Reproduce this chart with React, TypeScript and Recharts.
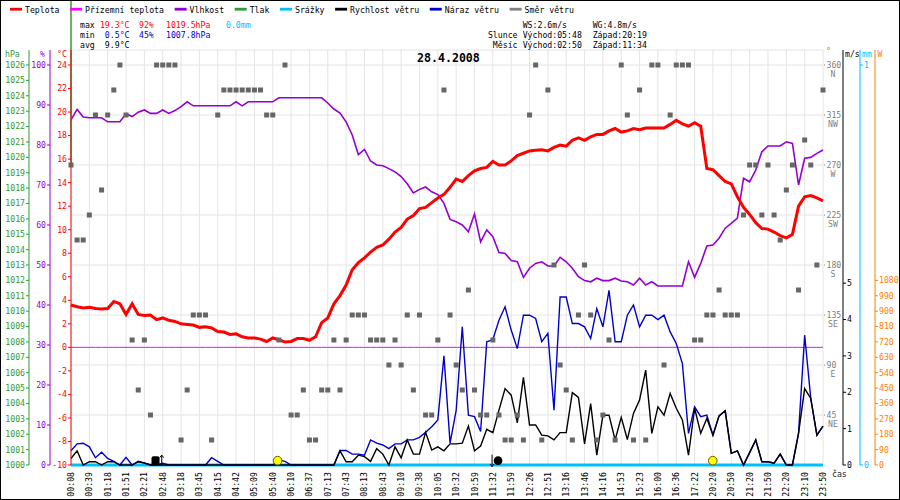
import React from 'react';
import {
  ComposedChart, Line, Scatter, XAxis, YAxis, CartesianGrid, ReferenceLine, ReferenceDot,
} from 'recharts';

// ---------- DATA ----------
const timeLabels = [
  '00:08', '00:39', '01:18', '01:51', '02:21', '02:48', '03:18', '03:45', '04:15', '04:42',
  '05:09', '05:40', '06:10', '06:37', '07:13', '07:43', '08:13', '08:43', '09:10', '09:38',
  '10:05', '10:32', '10:59', '11:32', '11:59', '12:26', '12:51', '13:16', '13:46', '14:16',
  '14:53', '15:23', '16:00', '16:36', '17:22', '20:20', '20:50', '21:20', '21:50', '22:20',
  '23:10', '23:50',
];
const SAMPLES_PER_LABEL = 3;

const temperature = [
  3.6, 3.45, 3.35, 3.4, 3.3, 3.25, 3.3, 3.9, 3.7, 2.8, 3.7, 2.8,
  2.7, 2.75, 2.35, 2.5, 2.3, 2.2, 2.0, 1.95, 1.9, 1.7, 1.75, 1.65,
  1.35, 1.3, 1.1, 1.15, 0.9, 0.8, 0.8, 0.7, 0.5, 0.8, 0.65, 0.45,
  0.5, 0.75, 0.75, 0.6, 0.9, 2.1, 2.5, 3.7, 4.4, 5.3, 6.6, 7.2,
  7.6, 8.1, 8.5, 8.7, 9.2, 9.8, 10.2, 10.9, 11.2, 11.8, 11.9, 12.3,
  12.7, 13.0, 13.6, 14.3, 14.1, 14.6, 15.0, 15.2, 15.3, 15.8, 15.5, 15.5,
  15.85, 16.3, 16.5, 16.7, 16.75, 16.8, 16.7, 17.0, 17.2, 17.1, 17.6, 17.8,
  17.6, 17.9, 18.1, 18.1, 18.4, 18.6, 18.3, 18.4, 18.6, 18.5, 18.65, 18.65,
  18.65, 18.65, 18.95, 19.3, 19.0, 18.8, 19.1, 18.8, 15.2, 15.1, 14.6, 14.1,
  13.9, 12.8, 11.9, 11.3, 10.6, 10.1, 10.05, 9.8, 9.5, 9.3, 9.6, 12.0,
  12.8, 12.9, 12.7, 12.45,
];

const groundTemp = [
  0, 0, 0, 0, 0, 0, 0, 0, 0, 0, 0, 0,
  0, 0, 0, 0, 0, 0, 0, 0, 0, 0, 0, 0,
  0, 0, 0, 0, 0, 0, 0, 0, 0, 0, 0, 0,
  0, 0, 0, 0, 0, 0, 0, 0, 0, 0, 0, 0,
  0, 0, 0, 0, 0, 0, 0, 0, 0, 0, 0, 0,
  0, 0, 0, 0, 0, 0, 0, 0, 0, 0, 0, 0,
  0, 0, 0, 0, 0, 0, 0, 0, 0, 0, 0, 0,
  0, 0, 0, 0, 0, 0, 0, 0, 0, 0, 0, 0,
  0, 0, 0, 0, 0, 0, 0, 0, 0, 0, 0, 0,
  0, 0, 0, 0, 0, 0, 0, 0, 0, 0, 0, 0,
  0, 0, 0, 0,
];

const humidity = [
  86.3, 88.9, 87.0, 86.8, 86.8, 86.8, 85.8, 85.8, 85.8, 87.8, 87.1, 88.2,
  88.75, 87.9, 87.9, 88.75, 87.9, 88.6, 89.6, 90.8, 89.8, 89.8, 89.8, 89.8,
  89.8, 89.8, 89.8, 90.8, 89.8, 90.8, 90.8, 90.8, 90.8, 90.8, 91.8, 91.8,
  91.8, 91.8, 91.8, 91.8, 91.8, 91.8, 90.5, 89.0, 88.0, 85.8, 82.5, 77.6,
  78.9, 76.0, 75.0, 74.8, 74.1, 73.3, 72.1, 70.3, 68.0, 68.9, 69.5, 68.3,
  67.6, 65.4, 61.4, 60.8, 60.0, 58.3, 62.75, 55.8, 58.75, 57.1, 53.1, 52.9,
  51.1, 50.8, 46.9, 49.2, 50.4, 50.8, 49.75, 49.75, 51.9, 50.8, 49.2, 47.1,
  46.1, 45.8, 46.7, 46.1, 46.1, 46.7, 46.0, 45.8, 45.0, 46.7, 45.0, 45.8,
  44.75, 44.75, 44.75, 44.75, 44.75, 50.8, 46.9, 50.4, 54.75, 55.0, 56.7, 59.2,
  60.4, 61.7, 71.7, 70.8, 73.75, 78.3, 79.75, 79.75, 79.75, 80.8, 80.4, 70.0,
  76.7, 76.9, 77.9, 78.75,
];

const precipitation = [
  0, 0, 0, 0, 0, 0, 0, 0, 0, 0, 0, 0,
  0, 0, 0, 0, 0, 0, 0, 0, 0, 0, 0, 0,
  0, 0, 0, 0, 0, 0, 0, 0, 0, 0, 0, 0,
  0, 0, 0, 0, 0, 0, 0, 0, 0, 0, 0, 0,
  0, 0, 0, 0, 0, 0, 0, 0, 0, 0, 0, 0,
  0, 0, 0, 0, 0, 0, 0, 0, 0, 0, 0, 0,
  0, 0, 0, 0, 0, 0, 0, 0, 0, 0, 0, 0,
  0, 0, 0, 0, 0, 0, 0, 0, 0, 0, 0, 0,
  0, 0, 0, 0, 0, 0, 0, 0, 0, 0, 0, 0,
  0, 0, 0, 0, 0, 0, 0, 0, 0, 0, 0, 0,
  0, 0, 0, 0,
];

const windSpeed = [
  0.18, 0.39, 0, 0.09, 0.09, 0, 0.09, 0.09, 0, 0, 0, 0.09,
  0.05, 0, 0, 0, 0, 0, 0, 0, 0, 0, 0, 0,
  0, 0, 0, 0, 0, 0, 0, 0, 0, 0, 0, 0,
  0, 0, 0, 0, 0, 0, 0, 0, 0.39, 0.09, 0.09, 0.27,
  0.23, 0.1, 0.45, 0.3, 0, 0.5, 0.2, 0.69, 0.3, 0.3, 0.9, 0.41,
  0.5, 0.39, 0.58, 0.58, 0.6, 1.07, 0.39, 0.52, 0.98, 0.89, 1.51, 2.1,
  1.92, 1.16, 2.41, 1.1, 1.1, 0.82, 0.8, 0.69, 0.89, 0.89, 1.99, 1.86,
  0.58, 1.69, 0.27, 1.37, 1.37, 0.69, 1.31, 0.7, 1.42, 1.79, 2.61, 0.87,
  1.6, 1.37, 1.97, 1.56, 1.24, 0.27, 1.56, 0.87, 1.28, 0.82, 1.35, 1.49,
  0.32, 0.39, 0, 0.34, 0.69, 0.09, 0.09, 0.05, 0.3, 0, 0, 0.87,
  2.1, 1.83, 0.82, 1.07,
];

const windGust = [
  0.39, 0.58, 0.6, 0.5, 0.2, 0.35, 0.18, 0.1, 0, 0.21, 0, 0.1,
  0.06, 0, 0, 0.05, 0, 0, 0, 0, 0, 0, 0, 0.2,
  0.1, 0, 0, 0, 0, 0, 0, 0, 0, 0, 0.14, 0.1,
  0, 0, 0, 0, 0, 0, 0, 0, 0.4, 0.4, 0.3, 0.3,
  0.27, 0.69, 0.6, 0.55, 0.45, 0.58, 0.58, 0.69, 0.69, 0.76, 0.9, 1.05,
  1.24, 3.0, 0.6, 1.5, 3.8, 1.37, 1.33, 0.92, 3.39, 3.45, 3.98, 4.35,
  3.71, 3.2, 4.12, 4.12, 4.03, 3.39, 3.62, 1.51, 4.62, 4.62, 3.89, 3.89,
  3.8, 3.48, 4.3, 3.8, 4.8, 3.39, 3.39, 4.12, 4.4, 3.8, 4.12, 4.12,
  4.0, 4.12, 3.66, 3.34, 2.79, 0.87, 1.6, 1.33, 1.37, 0.82, 1.35, 1.49,
  0.32, 0.39, 0, 0.34, 0.69, 0.09, 0.09, 0.05, 0.3, 0, 0, 0.87,
  3.57, 1.83, 0.82, 1.07,
];

const windDir = [
  270, 202.5, 202.5, 225, 315, 247.5, 315, 337.5, 360, 315, 112.5, 67.5,
  112.5, 45, 360, 360, 360, 360, 22.5, 67.5, 135, 135, 135, 22.5,
  315, 337.5, 337.5, 337.5, 337.5, 337.5, 337.5, 337.5, 315, 315, 112.5, 360,
  45, 45, 67.5, 22.5, 22.5, 67.5, 67.5, 112.5, 67.5, 112.5, 135, 135,
  135, 112.5, 112.5, 112.5, 90, 112.5, 90, 135, 67.5, 135, 45, 45,
  112.5, 337.5, 135, 90, 67.5, 157.5, 67.5, 45, 45, 112.5, 45, 22.5,
  22.5, 45, 22.5, 315, 360, 22.5, 337.5, 180, 90, 67.5, 22.5, 135,
  180, 135, 22.5, 45, 112.5, 22.5, 360, 315, 22.5, 337.5, 22.5, 360,
  360, 90, 315, 360, 360, 360, 112.5, 112.5, 135, 135, 157.5, 135,
  135, 135, 225, 270, 270, 225, 270, 225, 202.5, 247.5, 270, 157.5,
  292.5, 270, 180, 337.5,
];

const pressureMax = 1019.5;
const pressureOffScale = 1031;

// sun / moon events (position in sample index)
const skyEvents = [
  { k: 15.2, kind: 'moonrise', time: '02:50' },
  { k: 33.8, kind: 'sunrise', time: '05:48' },
  { k: 69.2, kind: 'moonset', time: '11:34' },
  { k: 104.97, kind: 'sunset', time: '20:19' },
];

const tempTicks = [-10, -8, -6, -4, -2, 0, 2, 4, 6, 8, 10, 12, 14, 16, 18, 20, 22, 24];
const humTicks = [0, 10, 20, 30, 40, 50, 60, 70, 80, 90, 100];
const presTicks = [1000, 1001, 1002, 1003, 1004, 1005, 1006, 1007, 1008, 1009, 1010, 1011, 1012, 1013,
  1014, 1015, 1016, 1017, 1018, 1019, 1020, 1021, 1022, 1023, 1024, 1025, 1026];
const dirTicks = [45, 90, 135, 180, 225, 270, 315, 360];
const compass: Record<number, string> = { 360: 'N', 315: 'NW', 270: 'W', 225: 'SW', 180: 'S', 135: 'SE', 90: 'E', 45: 'NE' };
const wsTicks = [0, 1, 2, 3, 4, 5];
const mmTicks = [0, 1];
const wTicks = [0, 90, 180, 270, 360, 450, 540, 630, 720, 810, 900, 990, 1080];

const legendItems = [
  { name: 'Teplota', color: '#ff0000' },
  { name: 'Přízemní teplota', color: '#ff00ff' },
  { name: 'Vlhkost', color: '#9400d3' },
  { name: 'Tlak', color: '#339933' },
  { name: 'Srážky', color: '#00bfff' },
  { name: 'Rychlost větru', color: '#000000' },
  { name: 'Náraz větru', color: '#0000cc' },
  { name: 'Směr větru', color: '#808080' },
];

const rows = temperature.map((t, k) => ({
  k,
  temp: t,
  ground: groundTemp[k],
  hum: humidity[k],
  precip: precipitation[k],
  ws: windSpeed[k],
  wg: windGust[k],
  dir: windDir[k],
}));
const xTicks = timeLabels.map((_, i) => i * SAMPLES_PER_LABEL);

// ---------- STYLE ----------
const FONT = '"DejaVu Sans Mono", "Liberation Mono", monospace';
const FS = 8.2;
const CW = 4.94; // char advance
const RED = '#ff0000';
const GREEN = '#339933';
const PURPLE = '#9400d3';
const CYAN = '#00bfff';
const ORANGE = '#ff8000';
const BLUE = '#0000cc';
const GRAY = '#808080';

// axis ids: alphabetical order == order from the plot outwards
const A_TEMP = 'a_temp';
const A_HUM = 'b_hum';
const A_PRES = 'c_pres';
const A_DIR = 'd_dir';
const A_WS = 'e_ws';
const A_MM = 'f_mm';
const A_W = 'g_w';

const XTick = (props: any) => {
  const { x, y, payload } = props;
  const label = timeLabels[Math.round(payload.value / SAMPLES_PER_LABEL)];
  return (
    <text x={x + 3} y={y} transform={`rotate(-90 ${x + 3} ${y})`} textAnchor="end"
      fontFamily={FONT} fontSize={FS} fill="#000">{label}</text>
  );
};

const DirTick = (props: any) => {
  const { x, y, payload } = props;
  return (
    <g>
      <rect x={x + 1} y={y - 0.5} width={1} height={1} fill={GRAY} />
      <text x={x + 3.5} y={y + 3} fontFamily={FONT} fontSize={FS} fill={GRAY}>{payload.value}</text>
      <text x={x + 10} y={y + 11.5} textAnchor="middle" fontFamily={FONT} fontSize={FS} fill={GRAY}>{compass[payload.value]}</text>
    </g>
  );
};

const Square = (p: any) => <rect x={p.cx - 2.5} y={p.cy - 2.5} width={5} height={5} fill="#666666" />;

const SkyIcon = (p: any) => {
  const { cx, cy, kind } = p;
  if (kind === 'sunrise' || kind === 'sunset') {
    return <circle cx={cx} cy={cy} r={4.3} fill="#ffff00" stroke="#6b5b00" strokeWidth={1} />;
  }
  if (kind === 'moonrise') {
    return (
      <g>
        <rect x={cx - 12.4} y={cy - 4.5} width={8} height={9} rx={2} fill="#000" />
        <path d={`M${cx - 2.2},${cy + 5} V${cy - 5.5} M${cx - 4.2},${cy - 3} L${cx - 2.2},${cy - 5.5} L${cx - 0.2},${cy - 3}`}
          stroke="#000" fill="none" strokeWidth={1} />
      </g>
    );
  }
  return (
    <g>
      <circle cx={cx + 4} cy={cy} r={4.3} fill="#000" />
      <path d={`M${cx - 2},${cy - 6} V${cy + 6} M${cx - 4},${cy + 3.5} L${cx - 2},${cy + 6} L${cx},${cy + 3.5}`}
        stroke="#000" fill="none" strokeWidth={1} />
    </g>
  );
};

const tickStyle = (fill: string) => ({ fill, fontSize: FS, fontFamily: FONT });

const Overlay = () => {
  let lx = 10;
  const legend = legendItems.map((it) => {
    const x = lx;
    lx = x + 15 + it.name.length * CW + 10.5;
    return (
      <g key={it.name}>
        <rect x={x} y={7.8} width={12} height={2.8} fill={it.color} />
        <text x={x + 15} y={12.5} fontFamily={FONT} fontSize={FS} fill="#000">{it.name}</text>
      </g>
    );
  });
  const t = (x: number, y: number, s: string, fill = '#000', anchor: any = 'start') => (
    <text x={x} y={y} fontFamily={FONT} fontSize={FS} fill={fill} textAnchor={anchor}>{s}</text>
  );
  return (
    <svg width={900} height={500} style={{ position: 'absolute', left: 0, top: 0, pointerEvents: 'none' }}>
      {legend}
      {t(80, 27.5, 'max')}
      {t(129.5, 27.5, '19.3°C', RED, 'end')}
      {t(139, 27.5, '92%', RED)}
      {t(166, 27.5, '1019.5hPa', RED)}
      {t(226, 27.5, '0.0mm', CYAN)}
      {t(80, 37.5, 'min')}
      {t(129.5, 37.5, '0.5°C', BLUE, 'end')}
      {t(139, 37.5, '45%', BLUE)}
      {t(166, 37.5, '1007.8hPa', BLUE)}
      {t(80, 47.5, 'avg')}
      {t(129.5, 47.5, '9.9°C', '#000', 'end')}

      {t(522.7, 27.5, 'WS:2.6m/s')}
      {t(592.7, 27.5, 'WG:4.8m/s')}
      {t(517.5, 37.5, 'Slunce', '#000', 'end')}
      {t(522.7, 37.5, 'Východ:05:48')}
      {t(592.7, 37.5, 'Západ:20:19')}
      {t(517.5, 47.5, 'Měsíc', '#000', 'end')}
      {t(522.7, 47.5, 'Východ:02:50')}
      {t(592.7, 47.5, 'Západ:11:34')}

      <text x={417} y={62} fontFamily={FONT} fontSize={11.6} fontWeight="bold" fill="#000">28.4.2008</text>

      {t(5, 57, 'hPa', GREEN)}
      {t(40, 57, '%', PURPLE)}
      {t(57, 57, '°C', RED)}
      {t(826, 54, '°', GRAY)}
      {t(845, 57, 'm/s', '#000')}
      {t(862, 57, 'mm', CYAN)}
      {t(877.5, 57, 'W', ORANGE)}
      {t(832, 477, 'čas', '#222')}
    </svg>
  );
};

export default function App() {
  return (
    <div style={{ position: 'absolute', left: 0, top: 0, width: 900, height: 500, background: '#fff', overflow: 'hidden', fontFamily: FONT }}>
      <ComposedChart width={900} height={500} data={rows} margin={{ top: 50, right: 0, bottom: 0, left: 0 }}>
        <CartesianGrid yAxisId={A_DIR} stroke="#e4e4e4" strokeWidth={1} />
        <XAxis dataKey="k" type="number" domain={[0, 123]} ticks={xTicks} interval={0} height={35}
          axisLine={false} tickLine={false} tickSize={0} tickMargin={7} tick={<XTick />} />

        <YAxis yAxisId={A_TEMP} orientation="left" type="number" width={21} domain={[-10, 25.275]} ticks={tempTicks}
          interval={0} tickSize={3} tickMargin={1} stroke={RED} axisLine={{ stroke: RED }} tickLine={{ stroke: RED }} tick={tickStyle(RED)} />
        <YAxis yAxisId={A_HUM} orientation="left" type="number" width={21} domain={[0, 103.75]} ticks={humTicks}
          interval={0} tickSize={3} tickMargin={1} stroke={PURPLE} axisLine={{ stroke: PURPLE }} tickLine={{ stroke: PURPLE }} tick={tickStyle(PURPLE)} />
        <YAxis yAxisId={A_PRES} orientation="left" type="number" width={29} domain={[1000, 1026.975]} ticks={presTicks}
          allowDataOverflow interval={0} tickSize={3} tickMargin={1} stroke={GREEN} axisLine={{ stroke: GREEN }} tickLine={{ stroke: GREEN }} tick={tickStyle(GREEN)} />

        <YAxis yAxisId={A_DIR} orientation="right" type="number" width={20} domain={[0, 373.5]} ticks={dirTicks}
          interval={0} tickSize={0} tickMargin={0} axisLine={false} tickLine={false} tick={<DirTick />} />
        <YAxis yAxisId={A_WS} orientation="right" type="number" width={17} domain={[0, 11.4125]} ticks={wsTicks}
          interval={0} tickSize={3} tickMargin={1} stroke="#000" axisLine={{ stroke: '#000' }} tickLine={{ stroke: '#000' }} tick={tickStyle('#000')} />
        <YAxis yAxisId={A_MM} orientation="right" type="number" width={15} domain={[0, 1.0375]} ticks={mmTicks}
          interval={0} tickSize={3} tickMargin={1} stroke={CYAN} axisLine={{ stroke: CYAN }} tickLine={{ stroke: CYAN }} tick={tickStyle(CYAN)} />
        <YAxis yAxisId={A_W} orientation="right" type="number" width={25} domain={[0, 2427.75]} ticks={wTicks}
          allowDataOverflow interval={0} tickSize={3} tickMargin={1} stroke={ORANGE} axisLine={{ stroke: ORANGE }} tickLine={{ stroke: ORANGE }} tick={tickStyle(ORANGE)} />

        <Line yAxisId={A_MM} dataKey="precip" stroke={CYAN} strokeWidth={3} dot={false} isAnimationActive={false} />
        <Line yAxisId={A_TEMP} dataKey="ground" stroke="#ff00ff" strokeWidth={1} dot={false} isAnimationActive={false} />
        <Line yAxisId={A_HUM} dataKey="hum" stroke={PURPLE} strokeWidth={1.6} dot={false} isAnimationActive={false} />
        <Line yAxisId={A_WS} dataKey="wg" stroke={BLUE} strokeWidth={1.4} dot={false} isAnimationActive={false} />
        <Line yAxisId={A_WS} dataKey="ws" stroke="#000" strokeWidth={1.4} dot={false} isAnimationActive={false} />
        <Line yAxisId={A_TEMP} dataKey="temp" stroke={RED} strokeWidth={3} dot={false} isAnimationActive={false} />
        <Scatter yAxisId={A_DIR} dataKey="dir" shape={Square} isAnimationActive={false} />

        <ReferenceLine yAxisId={A_PRES} segment={[{ x: 0, y: pressureMax }, { x: 0, y: pressureOffScale }]}
          stroke={GREEN} strokeWidth={1.5} ifOverflow="visible" />
        {skyEvents.map((e) => (
          <ReferenceDot key={e.kind} yAxisId={A_WS} x={e.k} y={0.12} r={4} ifOverflow="visible"
            shape={(p: any) => <SkyIcon {...p} kind={e.kind} />} />
        ))}
      </ComposedChart>
      <Overlay />
      <div style={{ position: 'absolute', left: 0, top: 0, width: 900, height: 500, boxSizing: 'border-box', border: '1px solid #000', pointerEvents: 'none' }} />
    </div>
  );
}
